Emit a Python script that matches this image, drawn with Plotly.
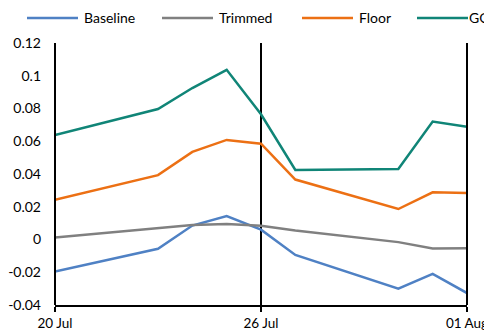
import plotly.graph_objects as go

dates = ["2020-07-20", "2020-07-23", "2020-07-24", "2020-07-25", "2020-07-26",
         "2020-07-27", "2020-07-30", "2020-07-31", "2020-08-01"]
baseline = [-0.0196, -0.0057, 0.0085, 0.0143, 0.0060, -0.0094, -0.0300, -0.0210, -0.0327]
trimmed = [0.0012, 0.0066, 0.0088, 0.0094, 0.0084, 0.0055, -0.0016, -0.0055, -0.0053]
floor = [0.0242, 0.0393, 0.0535, 0.0608, 0.0585, 0.0366, 0.0186, 0.0288, 0.0284]
gc = [0.0638, 0.0797, 0.0925, 0.1036, 0.0765, 0.0425, 0.0430, 0.0720, 0.0688]

x_tickvals = ["2020-07-20", "2020-07-26", "2020-08-01"]
x_ticktext = ["20 Jul", "26 Jul", "01 Aug"]
y_tickvals = [-0.04, -0.02, 0, 0.02, 0.04, 0.06, 0.08, 0.1, 0.12]
y_ticktext = ["-0.04", "-0.02", "0", "0.02", "0.04", "0.06", "0.08", "0.1", "0.12"]

series = [
    ("Baseline", baseline, "#4F81C4"),
    ("Trimmed", trimmed, "#808080"),
    ("Floor", floor, "#EC7014"),
    ("GC", gc, "#108577"),
]

# page body has an 8px margin; work in window pixels and shift
OFF = 8
FW, FH = 492 - OFF, 334 - OFF
L, R, T, B = 55 - OFF, 467 - OFF, 43 - OFF, 305 - OFF
W, H = R - L, B - T


def px(xw):
    return (xw - OFF - L) / W


def py(yw):
    return (B - (yw - OFF)) / H


fig = go.Figure()
for name, vals, color in series:
    fig.add_trace(go.Scatter(x=dates, y=vals, name=name, mode="lines",
                             line=dict(color=color, width=2.5), showlegend=False))

fig.update_layout(
    width=FW, height=FH,
    margin=dict(l=L, r=FW - R, t=T, b=FH - B, autoexpand=False),
    paper_bgcolor="white", plot_bgcolor="white",
    font=dict(family="Lato, Liberation Sans, sans-serif", size=14, color="#000"),
    showlegend=False,
    xaxis=dict(type="date", range=["2020-07-20", "2020-08-01"],
               tickvals=x_tickvals, ticktext=x_ticktext, automargin=False,
               tickfont=dict(size=13.5),
               showgrid=True, gridcolor="black", gridwidth=2,
               showline=True, linecolor="black", linewidth=2,
               ticks="outside", ticklen=5, tickcolor="black", tickwidth=2,
               zeroline=False),
    yaxis=dict(range=[-0.04, 0.12], tickvals=y_tickvals, ticktext=y_ticktext,
               showgrid=False, zeroline=False, automargin=False,
               showline=False, ticks="", ticklabelstandoff=13),
)
# axis and edge lines
fig.add_shape(type="line", xref="paper", yref="paper", x0=0, x1=0,
              y0=0, y1=1, line=dict(color="black", width=2))
fig.add_shape(type="line", xref="paper", yref="paper", x0=1, x1=1,
              y0=0, y1=1, line=dict(color="black", width=2))

# manual legend
legend_pos = [27, 162, 302, 417]
text_gap = [57, 57, 57, 52]
ly = py(18)
for (name, vals, color), x0, g in zip(series, legend_pos, text_gap):
    fig.add_shape(type="line", xref="paper", yref="paper",
                  x0=px(x0), x1=px(x0 + 51), y0=ly, y1=ly,
                  line=dict(color=color, width=2.5))
    fig.add_annotation(xref="paper", yref="paper", x=px(x0 + g), y=ly,
                       text=name, showarrow=False, xanchor="left", yanchor="middle",
                       xshift=-2, font=dict(size=14, color="#000"))

fig.write_html("out.html")
